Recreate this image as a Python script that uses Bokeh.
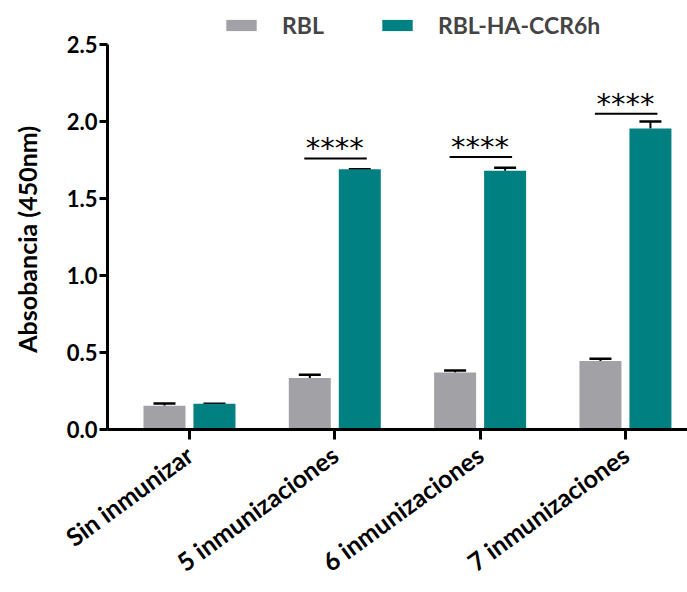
from bokeh.plotting import figure
from bokeh.models import (ColumnDataSource, Range1d, FixedTicker, Whisker, TeeHead,
                          Legend, LegendItem, CustomJSTickFormatter)
from bokeh.core.properties import value
from bokeh.embed import file_html
from bokeh.resources import INLINE

# Absorbance at 450 nm for each immunisation stage
groups = ["Sin inmunizar", "5 inmunizaciones", "6 inmunizaciones", "7 inmunizaciones"]
rbl = [0.155, 0.335, 0.37, 0.445]
rbl_err = [0.014, 0.02, 0.013, 0.015]
ccr6 = [0.167, 1.69, 1.68, 1.955]
ccr6_err = [0.0, 0.0, 0.02, 0.045]

# significance annotations (group index, bracket height, label)
sig_groups = [1, 2, 3]
sig_heights = [1.76, 1.77, 2.05]
sig_labels = ["****", "****", "****"]

GRAY = "#A2A2A6"
TEAL = "#008080"
FONT = "Lato"

bar_w = 0.289
offset = 0.172
centers = list(range(len(groups)))

# the frame reaches the top edge so the legend has room above the 2.5 tick;
# the y axis line itself stops at 2.5 through its bounds
p = figure(width=687, height=592, output_backend="svg", toolbar_location=None,
           x_range=Range1d(-0.564, 3.427), y_range=Range1d(0, 2.786),
           min_border_left=107, min_border_right=0, min_border_top=0,
           min_border_bottom=163)
p.outline_line_color = None
p.grid.grid_line_color = None
p.background_fill_color = "white"
p.border_fill_color = "white"

src_a = ColumnDataSource(dict(x=[c - offset for c in centers], top=rbl,
                              up=[v + e for v, e in zip(rbl, rbl_err)]))
src_b = ColumnDataSource(dict(x=[c + offset for c in centers], top=ccr6,
                              up=[v + e for v, e in zip(ccr6, ccr6_err)]))

r_a = p.vbar(x="x", top="top", width=bar_w, source=src_a, fill_color=GRAY,
             line_color=None)
r_b = p.vbar(x="x", top="top", width=bar_w, source=src_b, fill_color=TEAL,
             line_color=None)

for src in (src_a, src_b):
    w = Whisker(base="x", lower="top", upper="up", source=src, dimension="height",
                line_color="black", line_width=2,
                upper_head=TeeHead(size=22, line_width=2.5, line_color="black"),
                lower_head=None)
    p.add_layout(w)

# significance brackets and stars
p.segment(x0=[g - 0.21 for g in sig_groups], x1=[g + 0.22 for g in sig_groups],
          y0=sig_heights, y1=sig_heights, line_color="black", line_width=2)
p.text(x=[g + 0.0 for g in sig_groups], y=[h - 0.045 for h in sig_heights],
       text=sig_labels, text_align="center", text_baseline="bottom",
       text_font=value("DejaVu Sans"), text_font_size="29px", text_color="black")

# axes
p.yaxis.ticker = FixedTicker(ticks=[0, 0.5, 1.0, 1.5, 2.0, 2.5])
p.yaxis.formatter = CustomJSTickFormatter(code="return tick.toFixed(1);")
p.yaxis.bounds = (0, 2.5)
p.xaxis.ticker = FixedTicker(ticks=centers)
p.xaxis.major_label_overrides = {i: g for i, g in enumerate(groups)}
p.xaxis.major_label_orientation = 0.63

for ax in (p.xaxis, p.yaxis):
    ax.axis_line_width = 3
    ax.axis_line_color = "black"
    ax.major_tick_line_width = 3
    ax.major_tick_line_color = "black"
    ax.major_tick_in = 0
    ax.minor_tick_line_color = None
    ax.major_label_text_font = FONT
    ax.major_label_text_font_style = "bold"
    ax.major_label_text_color = "black"

p.yaxis.major_label_text_font_size = "22px"
p.xaxis.major_label_text_font_size = "25px"
p.yaxis.major_tick_out = 8
p.yaxis.major_label_standoff = 2
p.xaxis.major_tick_out = 10
p.xaxis.major_label_standoff = 12

# trailing no-break spaces centre the title on the 0-2.5 span of the axis
p.yaxis.axis_label = "Absobancia (450nm)" + "\u00a0" * 8
p.yaxis.axis_label_text_font = FONT
p.yaxis.axis_label_text_font_style = "bold"
p.yaxis.axis_label_text_font_size = "25px"
p.yaxis.axis_label_text_color = "black"
p.yaxis.axis_label_standoff = 22

legend = Legend(items=[LegendItem(label="RBL", renderers=[r_a]),
                       LegendItem(label="RBL-HA-CCR6h", renderers=[r_b])],
                orientation="horizontal", location=(115, 390),
                glyph_width=38, glyph_height=14, spacing=54, padding=0,
                margin=0, label_standoff=22,
                label_text_font=FONT, label_text_font_style="bold",
                label_text_font_size="23px", border_line_color=None,
                background_fill_alpha=0)
p.add_layout(legend)

open("out.html", "w").write(file_html(p, INLINE))
